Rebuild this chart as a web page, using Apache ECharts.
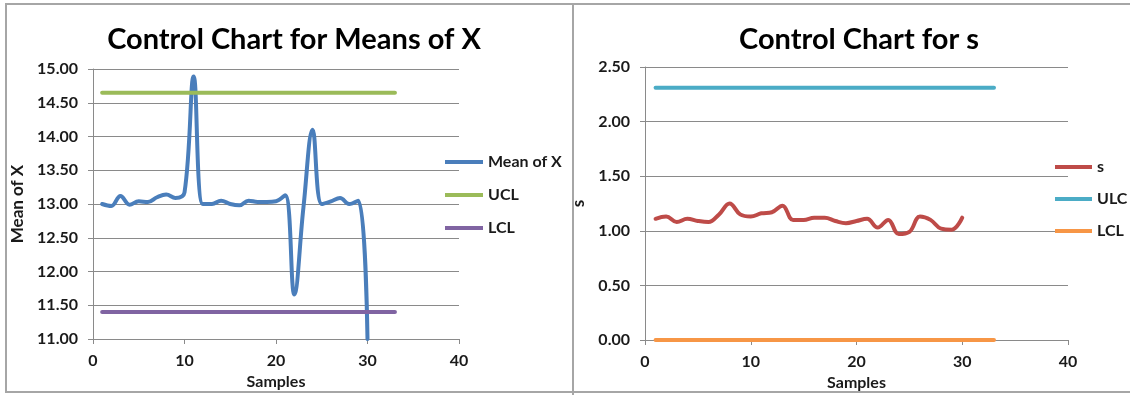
<!DOCTYPE html>
<html>
<head>
<meta charset="utf-8">
<script src="https://cdn.jsdelivr.net/npm/echarts@6/dist/echarts.min.js"></script>
<style>
  html, body { margin: 0; padding: 0; background: #fff; }
  #wrap { position: relative; width: 1130px; height: 396px; overflow: hidden; }
  #frame { position: absolute; left: 5px; top: 3px; width: 1140px; height: 390px; border: 2px solid #a6a6a6; box-sizing: border-box; }
  #divider { position: absolute; left: 572px; top: 3px; width: 2px; height: 392px; background: #a6a6a6; }
  #main_1 { position: absolute; left: 0; top: 0; width: 573px; height: 396px; }
  #main_2 { position: absolute; left: 573px; top: 0; width: 557px; height: 396px; }
</style>
</head>
<body>
<div id="wrap">
  <div id="main_1"></div>
  <div id="main_2"></div>
  <div id="frame"></div>
  <div id="divider"></div>
</div>
<script>
// sample numbers (x axis)
var samples = [1, 2, 3, 4, 5, 6, 7, 8, 9, 10, 11, 12, 13, 14, 15, 16, 17, 18, 19, 20,
               21, 22, 23, 24, 25, 26, 27, 28, 29, 30];
// mean of X for each sample
var meanX = [13.00, 12.97, 13.12, 12.99, 13.04, 13.03, 13.10, 13.14, 13.09, 13.17,
             14.89, 13.00, 13.00, 13.05, 13.00, 12.98, 13.05, 13.03, 13.03, 13.04,
             13.13, 11.66, 12.95, 14.10, 13.00, 13.04, 13.09, 13.00, 13.05, 11.00];
// standard deviation s for each sample
var sVals = [1.11, 1.13, 1.08, 1.11, 1.09, 1.08, 1.15, 1.25, 1.15, 1.13,
             1.16, 1.17, 1.23, 1.10, 1.10, 1.12, 1.12, 1.09, 1.07, 1.09,
             1.11, 1.03, 1.10, 0.97, 0.99, 1.13, 1.10, 1.02, 1.01, 1.12];
// control limits, drawn from sample 1 to 33
var limitX = [1, 33];
var meanUCL = 14.65, meanLCL = 11.40;
var sUCL = 2.31, sLCL = 0.00;

var font = 'Lato, "Open Sans", sans-serif';
var txt = '#1a1a1a';
var gridGray = '#8a8a8a';

function pairs(xs, ys) {
  return xs.map(function (x, i) { return [x, ys[i]]; });
}
function flat(v) {
  return limitX.map(function (x) { return [x, v]; });
}

function baseOption(o) {
  o.grid.outerBoundsMode = 'none';
  o.grid.containLabel = false;
  return {
    animation: false,
    title: {
      text: o.title, left: o.titleX, top: 20, textAlign: 'center',
      textStyle: { fontFamily: font, fontSize: 29, fontWeight: 'bold', color: '#000' }
    },
    grid: o.grid,
    legend: {
      orient: 'vertical', left: o.legendLeft, top: o.legendTop, padding: 0,
      icon: 'rect', itemWidth: o.legendW, itemHeight: 4, itemGap: o.legendGap,
      textStyle: { fontFamily: font, fontSize: 16, fontWeight: 'bold', color: txt }
    },
    xAxis: {
      type: 'value', min: 0, max: 40, interval: 10,
      name: 'Samples', nameLocation: 'middle', nameGap: 35,
      nameTextStyle: { fontFamily: font, fontSize: 16, fontWeight: 'bold', color: txt },
      axisLine: { lineStyle: { color: gridGray } },
      axisTick: { show: true, length: 5, lineStyle: { color: gridGray } },
      axisLabel: { margin: 14, fontFamily: font, fontSize: 16, fontWeight: 'bold', color: txt },
      splitLine: { show: false }
    },
    yAxis: {
      type: 'value', min: o.yMin, max: o.yMax, interval: o.yStep,
      name: o.yName, nameLocation: 'middle', nameGap: o.yNameGap, nameRotate: 90,
      nameTextStyle: { fontFamily: font, fontSize: 17, fontWeight: 'bold', color: txt },
      axisLine: { show: true, lineStyle: { color: gridGray } },
      axisTick: { show: true, length: 5, lineStyle: { color: gridGray } },
      axisLabel: {
        margin: 15, fontFamily: font, fontSize: 16, fontWeight: 'bold', color: txt,
        formatter: function (v) { return v.toFixed(2); }
      },
      splitLine: { show: true, lineStyle: { color: gridGray, width: 1 } }
    },
    series: o.series
  };
}

function lineSeries(name, data, color, smooth) {
  return {
    name: name, type: 'line', data: data, smooth: smooth ? 0.4 : false,
    symbol: 'none', color: color,
    lineStyle: { width: 4, color: color, cap: 'round' }
  };
}

// 基于准备好的dom，初始化echarts实例
var chart1 = echarts.init(document.getElementById('main_1'));
chart1.setOption(baseOption({
  title: 'Control Chart for Means of X', titleX: 289,
  grid: { left: 93, right: 114, top: 69, bottom: 57 },
  legendLeft: 445, legendTop: 154, legendW: 38, legendGap: 17,
  yMin: 11, yMax: 15, yStep: 0.5, yName: 'Mean of X', yNameGap: 66,
  series: [
    lineSeries('Mean of X', pairs(samples, meanX), '#4a7ebb', true),
    lineSeries('UCL', flat(meanUCL), '#9bbb59', false),
    lineSeries('LCL', flat(meanLCL), '#8064a2', false)
  ]
}));

var chart2 = echarts.init(document.getElementById('main_2'));
chart2.setOption(baseOption({
  title: 'Control Chart for s', titleX: 281,
  grid: { left: 72, right: 62, top: 67, bottom: 56 },
  legendLeft: 482, legendTop: 159, legendW: 37, legendGap: 16,
  yMin: 0, yMax: 2.5, yStep: 0.5, yName: 's', yNameGap: 46,
  series: [
    lineSeries('s', pairs(samples, sVals), '#be4b48', true),
    lineSeries('ULC', flat(sUCL), '#4bacc6', false),
    lineSeries('LCL', flat(sLCL), '#f79646', false)
  ]
}));
</script>
</body>
</html>
